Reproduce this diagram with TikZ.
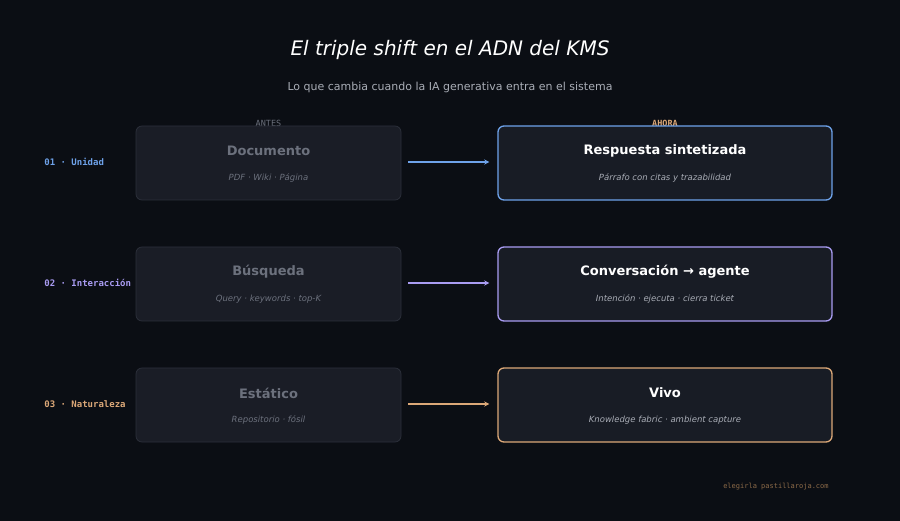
\documentclass[tikz,border=0pt]{standalone}
\usepackage{fontspec}
\setmainfont{DejaVu Sans}
\setmonofont{DejaVu Sans Mono}
\usetikzlibrary{positioning}
\definecolor{bg}{HTML}{0B0E14}
\definecolor{oldfill}{HTML}{1A1D26}
\definecolor{olddraw}{HTML}{2C303B}
\definecolor{newfill}{HTML}{181C25}
\definecolor{cblue}{HTML}{6EA2EA}
\definecolor{cpurple}{HTML}{A99CF2}
\definecolor{corange}{HTML}{DCA878}
\definecolor{oldtext}{HTML}{6C717D}
\definecolor{subtext}{HTML}{A9ADB6}
\definecolor{foot}{HTML}{8C6A48}
\tikzset{every picture/.style={line width=0.75pt}}
\tikzset{
  oldbox/.style={draw=olddraw,fill=oldfill,rounded corners=6pt,minimum width=265pt,minimum height=74pt,inner sep=0pt},
  newbox/.style={draw=#1,fill=newfill,rounded corners=6pt,line width=1.3pt,minimum width=334pt,minimum height=74pt,inner sep=0pt},
  oldtitle/.style={text=oldtext,font=\fontsize{13}{15}\selectfont\bfseries,inner sep=0pt},
  newtitle/.style={text=white,font=\fontsize{13}{15}\selectfont\bfseries,inner sep=0pt},
  oldsub/.style={text=oldtext,font=\fontsize{8.5}{10}\selectfont\itshape,inner sep=0pt},
  newsub/.style={text=subtext,font=\fontsize{8.5}{10}\selectfont\itshape,inner sep=0pt},
  rowlabel/.style={text=#1,font=\ttfamily\bfseries\fontsize{9}{11}\selectfont,anchor=west,inner sep=0pt},
  shift/.style={draw=#1,line width=1.3pt,->,>=stealth},
}
\begin{document}
\begin{tikzpicture}[x=1pt,y=1pt,yscale=-1]
\fill[bg] (0,0) rectangle (900,521);
\useasboundingbox (0,0) rectangle (900,521);

% titles
\node (title) [text=white,font=\fontsize{20}{24}\selectfont\itshape,inner sep=0pt] at (450,50) {El triple shift en el ADN del KMS};
\node (subtitle) [text=subtext,font=\fontsize{11}{13}\selectfont,inner sep=0pt] at (450,87) {Lo que cambia cuando la IA generativa entra en el sistema};
\node (antes) [text=oldtext,font=\ttfamily\fontsize{8.5}{10}\selectfont,inner sep=0pt] at (268.5,123) {ANTES};
\node (ahora) [text=corange,font=\ttfamily\bfseries\fontsize{8.5}{10}\selectfont,inner sep=0pt] at (665,123) {AHORA};

% row 1
\node (old1) [oldbox] at (268.5,163) {};
\node (new1) [newbox=cblue] at (665,163) {};
\node [oldtitle] at ([yshift=-12]old1.center) {Documento};
\node [oldsub] at ([yshift=15]old1.center) {PDF · Wiki · Página};
\node [newtitle] at ([yshift=-12]new1.center) {Respuesta sintetizada};
\node [newsub] at ([yshift=15]new1.center) {Párrafo con citas y trazabilidad};
\node (lab1) [rowlabel=cblue] at (44,162) {01 · Unidad};
\draw [shift=cblue] ([xshift=7]old1.east |- 0,162) -- ([xshift=-8]new1.west |- 0,162);

% row 2
\node (old2) [oldbox] at (268.5,284) {};
\node (new2) [newbox=cpurple] at (665,284) {};
\node [oldtitle] at ([yshift=-12]old2.center) {Búsqueda};
\node [oldsub] at ([yshift=15]old2.center) {Query · keywords · top-K};
\node [newtitle] at ([yshift=-12]new2.center) {Conversación → agente};
\node [newsub] at ([yshift=15]new2.center) {Intención · ejecuta · cierra ticket};
\node (lab2) [rowlabel=cpurple] at (44,283) {02 · Interacción};
\draw [shift=cpurple] ([xshift=7]old2.east |- 0,283) -- ([xshift=-8]new2.west |- 0,283);

% row 3
\node (old3) [oldbox] at (268.5,405) {};
\node (new3) [newbox=corange] at (665,405) {};
\node [oldtitle] at ([yshift=-12]old3.center) {Estático};
\node [oldsub] at ([yshift=15]old3.center) {Repositorio · fósil};
\node [newtitle] at ([yshift=-12]new3.center) {Vivo};
\node [newsub] at ([yshift=15]new3.center) {Knowledge fabric · ambient capture};
\node (lab3) [rowlabel=corange] at (44,404) {03 · Naturaleza};
\draw [shift=corange] ([xshift=7]old3.east |- 0,404) -- ([xshift=-8]new3.west |- 0,404);

% footer
\node (foot) [text=foot,font=\ttfamily\fontsize{7}{9}\selectfont,anchor=east,inner sep=0pt] at (829,487) {elegirla pastillaroja.com};
\end{tikzpicture}
\end{document}
